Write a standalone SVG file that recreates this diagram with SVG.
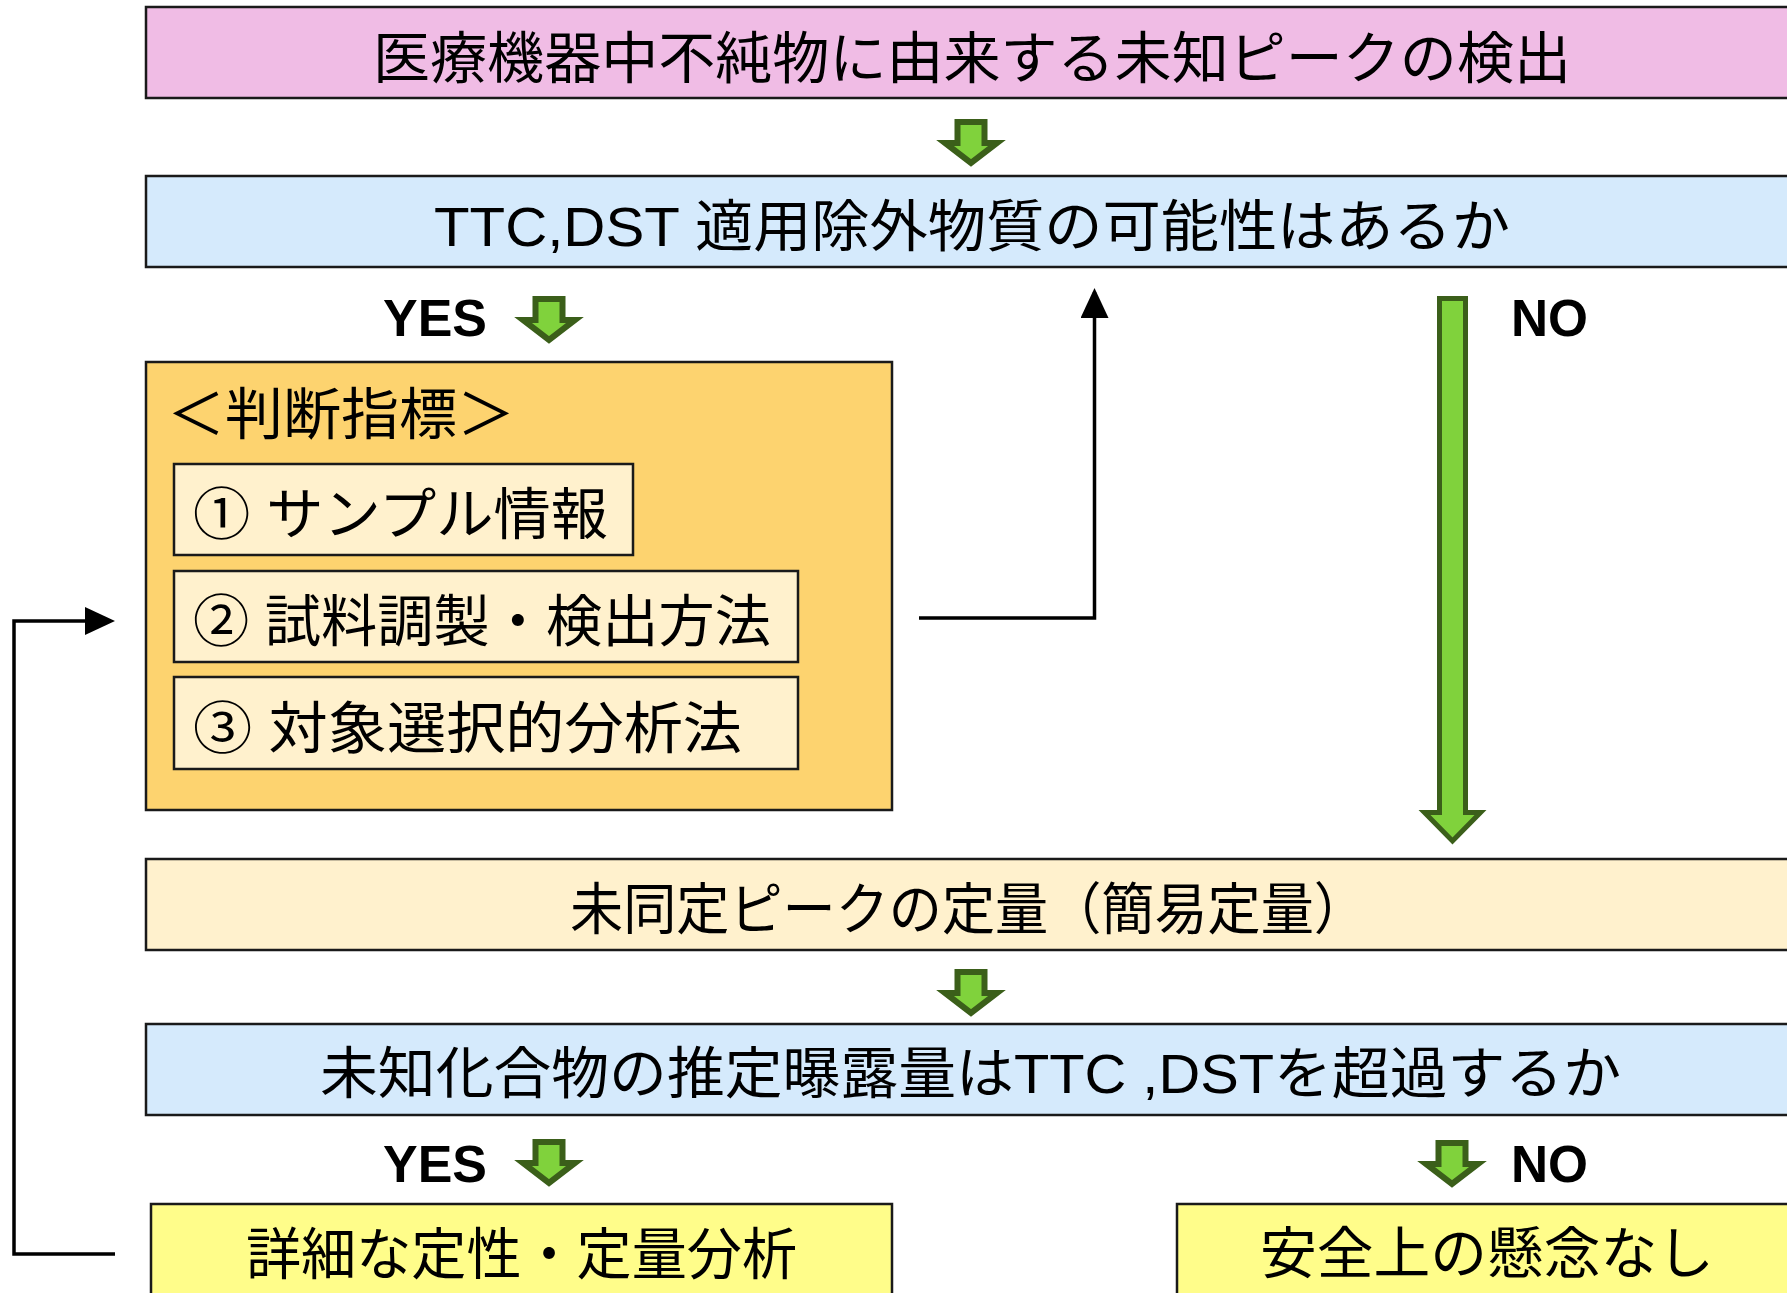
<svg xmlns="http://www.w3.org/2000/svg" xmlns:xlink="http://www.w3.org/1999/xlink" width="1787" height="1293" viewBox="0 0 1787 1293">
<style>
.box{stroke:#1a1a1a;stroke-width:2.5}
.pink{fill:#F0BCE5}
.blue{fill:#D5EAFC}
.orange{fill:#FDD36F}
.cream{fill:#FFF1CD}
.yellow{fill:#FFFD8A}
.t{font-family:"Liberation Sans","Noto Sans CJK JP",sans-serif;font-size:56px;fill:#000}
.lbl{font-family:"Liberation Sans","Noto Sans CJK JP",sans-serif;font-size:52px;font-weight:bold;fill:#000}
.garrow{fill:#80D23C;stroke:#3B5F1A;stroke-width:6;stroke-linejoin:miter;stroke-miterlimit:10}
.conn{fill:none;stroke:#000;stroke-width:3.5}
</style>
<defs>
<marker id="ah" markerUnits="userSpaceOnUse" markerWidth="30" markerHeight="28" viewBox="0 0 30 28" refX="26" refY="14" orient="auto">
<path d="M0,0 L30,14 L0,28 Z" fill="#000"/>
</marker>
<path id="sarrow" d="M-13.5,0 H13.5 V21 H26 L0,41 L-26,21 H-13.5 Z"/>
</defs>

<g id="connectors">
<path class="conn" d="M919,618 H1094.5 V292" marker-end="url(#ah)"/>
<path class="conn" d="M115,1254 H14 V621 H111" marker-end="url(#ah)"/>
<use xlink:href="#sarrow" class="garrow" x="971" y="122"/>
<use xlink:href="#sarrow" class="garrow" x="549" y="299"/>
<path class="garrow" style="stroke-width:5" d="M1439.5,298.5 H1465.5 V812.5 H1480.5 L1452.5,841 L1424.5,812.5 H1439.5 Z"/>
<use xlink:href="#sarrow" class="garrow" x="971" y="972"/>
<use xlink:href="#sarrow" class="garrow" x="549" y="1142"/>
<use xlink:href="#sarrow" class="garrow" x="1452" y="1143"/>
<text class="lbl" x="383" y="336" textLength="104" lengthAdjust="spacingAndGlyphs">YES</text>
<text class="lbl" x="1511" y="336" textLength="77" lengthAdjust="spacingAndGlyphs">NO</text>
<text class="lbl" x="383" y="1182" textLength="104" lengthAdjust="spacingAndGlyphs">YES</text>
<text class="lbl" x="1511" y="1182" textLength="77" lengthAdjust="spacingAndGlyphs">NO</text>
</g>

<g id="n1">
<rect class="box pink" x="146" y="7" width="1700" height="91"/>
<text class="t" x="373" y="78" textLength="1198" lengthAdjust="spacingAndGlyphs">医療機器中不純物に由来する未知ピークの検出</text>
</g>

<g id="n2">
<rect class="box blue" x="146" y="176" width="1700" height="91"/>
<text class="t" x="434" y="246" textLength="1076" lengthAdjust="spacingAndGlyphs">TTC,DST 適用除外物質の可能性はあるか</text>
</g>

<g id="n3">
<rect class="box orange" x="146" y="362" width="746" height="448"/>
<text class="t" x="167" y="434" textLength="348" lengthAdjust="spacingAndGlyphs">＜判断指標＞</text>
</g>

<g id="n3a">
<rect class="box cream" x="174" y="464" width="459" height="91"/>
<text class="t" x="193" y="534" textLength="415" lengthAdjust="spacingAndGlyphs">① サンプル情報</text>
</g>

<g id="n3b">
<rect class="box cream" x="174" y="571" width="624" height="91"/>
<text class="t" x="193" y="641" textLength="578" lengthAdjust="spacingAndGlyphs">② 試料調製・検出方法</text>
</g>

<g id="n3c">
<rect class="box cream" x="174" y="677" width="624" height="92"/>
<text class="t" x="193" y="748" textLength="549" lengthAdjust="spacingAndGlyphs">③ 対象選択的分析法</text>
</g>

<g id="n4">
<rect class="box cream" x="146" y="859" width="1700" height="91"/>
<text class="t" x="570" y="929" textLength="797" lengthAdjust="spacingAndGlyphs">未同定ピークの定量（簡易定量）</text>
</g>

<g id="n5">
<rect class="box blue" x="146" y="1024" width="1700" height="91"/>
<text class="t" x="320" y="1093" textLength="1301" lengthAdjust="spacingAndGlyphs">未知化合物の推定曝露量はTTC ,DSTを超過するか</text>
</g>

<g id="n6">
<rect class="box yellow" x="151" y="1204" width="741" height="120"/>
<text class="t" x="246" y="1274" textLength="551" lengthAdjust="spacingAndGlyphs">詳細な定性・定量分析</text>
</g>

<g id="n7">
<rect class="box yellow" x="1177" y="1204" width="700" height="120"/>
<text class="t" x="1260" y="1273" textLength="454" lengthAdjust="spacingAndGlyphs">安全上の懸念なし</text>
</g>
</svg>
